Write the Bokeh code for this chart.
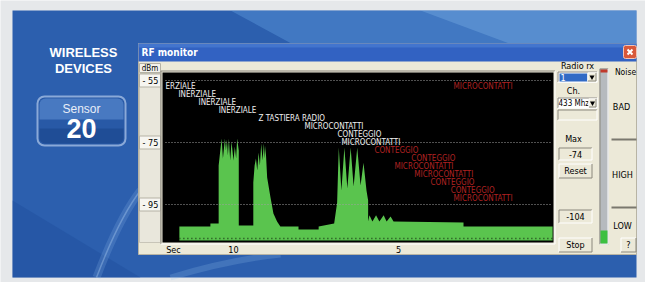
from bokeh.plotting import figure
from bokeh.models import Range1d
from bokeh.core.properties import value
from bokeh.embed import file_html
from bokeh.resources import INLINE

# ---------------- data ----------------
TICKS_DBM = [-55, -75, -95]
TICK_LABELS = ["- 55", "- 75", "- 95"]
X_TICKS_SEC = [10, 5]
X_TICK_LABELS = ["10", "5"]

# received level envelope (seconds ago, dBm), left to right
sig_t = [11.64, 10.70, 10.70, 10.45, 10.45, 10.36, 10.32, 10.26, 10.23, 10.20,
         10.17, 10.14, 10.10, 10.06, 10.00, 9.96, 9.92, 9.89, 9.84, 9.84,
         9.40, 9.40, 9.36, 9.32, 9.28, 9.24, 9.20, 9.16, 9.12, 9.08,
         9.05, 9.03, 8.98, 8.88, 8.79, 8.68, 8.58, 8.03, 8.03, 7.42,
         7.42, 6.95, 6.86, 6.81, 6.73, 6.64, 6.55, 6.45, 6.36, 6.25,
         6.15, 6.06, 5.97, 5.92, 5.92, 5.88, 5.79, 5.68, 5.58, 5.45,
         5.36, 5.24, 5.15, 3.03, 3.03, 0.33]
sig_db = [-102.1, -102.1, -101.1, -101.1, -82.4, -73.7, -80.2, -73.7, -77.6, -74.0,
          -79.2, -73.7, -80.8, -74.7, -80.8, -76.3, -80.2, -73.7, -77.6, -101.8,
          -101.8, -87.9, -82.4, -80.2, -84.0, -78.2, -82.4, -75.3, -80.8, -75.3,
          -80.2, -76.0, -86.3, -92.7, -97.9, -100.5, -102.1, -102.1, -103.1, -103.1,
          -102.1, -101.1, -94.4, -76.6, -90.5, -76.6, -89.8, -76.6, -89.2, -76.6,
          -88.9, -81.5, -90.5, -93.7, -100.5, -98.5, -100.5, -98.5, -100.5, -98.5,
          -100.5, -98.9, -100.5, -100.8, -102.1, -102.1]
BASE_DBM = -106.6

white_labels = ["ERZIALE", "INERZIALE", "INERZIALE", "INERZIALE", "Z TASTIERA RADIO",
                "MICROCONTATTI", "CONTEGGIO", "MICROCONTATTI"]
white_t = [12.06, 11.67, 11.06, 10.45, 9.24, 7.85, 6.85, 6.73]
white_row = [0, 1, 2, 3, 4, 5, 6, 7]

red_labels = ["MICROCONTATTI", "CONTEGGIO", "CONTEGGIO", "MICROCONTATTI", "MICROCONTATTI",
              "CONTEGGIO", "CONTEGGIO", "MICROCONTATTI"]
red_t = [3.33, 5.73, 4.61, 5.12, 4.52, 4.03, 3.42, 3.33]
red_row = [0, 8, 9, 10, 11, 12, 13, 14]

MAX_READ = "-74"
MIN_READ = "-104"

# ---------------- layout (screen pixels of the picture) ----------------
X0, X1, Y0, Y1 = 0, 645, 0, 282
W, H = X1 - X0, Y1 - Y0
SEC_REF_PX, SEC_REF, PX_PER_SEC = 233, 10, 33.0
DB_REF_PX, DB_REF, PX_PER_DB = 142, -75, 3.1
ROW0, ROW_H = 86, 8


def px_to_t(x):
    return SEC_REF - (x - SEC_REF_PX) / PX_PER_SEC


def px_to_db(y):
    return DB_REF - (y - DB_REF_PX) / PX_PER_DB


UI = "DejaVu Sans Condensed"
SANS = "Liberation Sans"
BEIGE = "#ECE9D8"
GREEN = "#5ac44e"

p = figure(width=W, height=H, x_range=Range1d(X0, X1), y_range=Range1d(Y1, Y0),
           output_backend="svg", toolbar_location=None, min_border=0,
           x_axis_location=None, y_axis_location=None,
           background_fill_color="#e6e8ea", border_fill_color="#e6e8ea",
           outline_line_color=None)
p.xgrid.visible = False
p.ygrid.visible = False
p.extra_x_ranges = {"t": Range1d(px_to_t(X0), px_to_t(X1))}
p.extra_y_ranges = {"db": Range1d(px_to_db(Y1), px_to_db(Y0))}


def box(x0, y0, x1, y1, fill, line=None, lw=1, alpha=1.0, radius=None):
    kw = dict(left=[x0], right=[x1], top=[y0], bottom=[y1], fill_color=fill,
              fill_alpha=alpha, line_color=line, line_width=lw)
    if radius is not None:
        kw["border_radius"] = radius
    p.quad(**kw)


def bevel(x0, y0, x1, y1, sunken=True, dark="#8a877c", light="#ffffff"):
    tl = dark if sunken else light
    br = light if sunken else dark
    x0, y0, x1, y1 = x0 + 0.5, y0 + 0.5, x1 - 0.5, y1 - 0.5
    p.line([x0, x0, x1], [y1, y0, y0], line_color=tl, line_width=1)
    p.line([x0, x1, x1], [y1, y1, y0], line_color=br, line_width=1)


def txt(x, y, s, size="9px", color="black", align="left", bold=False, font=UI):
    p.text(x=[x], y=[y], text=[s], text_font=value(font), text_font_size=size,
           text_color=color, text_align=align, text_baseline="middle",
           text_font_style="bold" if bold else "normal")


# ---------------- blue desktop panel ----------------
box(12, 10, 636, 277, "#2c5fae")
p.patch([230, 636, 636], [10, 10, 230], fill_color="#6aaae8", fill_alpha=0.35, line_color=None)
p.patch([420, 636, 636], [10, 10, 90], fill_color="#8cc0f0", fill_alpha=0.3, line_color=None)
p.patch([12, 140, 12], [200, 277, 277], fill_color="#1c4a98", fill_alpha=0.35, line_color=None)
# soft light swooshes of the wallpaper
p.bezier(x0=[96], y0=[277], x1=[140], y1=[190], cx0=[112], cy0=[235], cx1=[126], cy1=[208],
         line_color="#9cc8f2", line_alpha=0.18, line_width=8)
p.bezier(x0=[96], y0=[277], x1=[140], y1=[190], cx0=[112], cy0=[235], cx1=[126], cy1=[208],
         line_color="#b8d8f6", line_alpha=0.35, line_width=1.5)
p.bezier(x0=[170], y0=[277], x1=[280], y1=[254], cx0=[200], cy0=[268], cx1=[240], cy1=[258],
         line_color="#9cc8f2", line_alpha=0.2, line_width=6)

txt(83, 52, "WIRELESS", size="13px", color="white", align="center", bold=True, font=SANS)
txt(83, 68, "DEVICES", size="13px", color="white", align="center", bold=True, font=SANS)

box(37, 96, 125, 145, "#2859a6", line="#8aa9d8", lw=2, radius=7)
box(39, 98, 123, 119, "#6f9fe2", alpha=0.45, radius=(6, 6, 0, 0))
box(39, 128, 123, 143, "#143d82", alpha=0.45, radius=(0, 0, 6, 6))
txt(81, 108, "Sensor", size="12px", color="#e8eef8", align="center", font=SANS)
txt(81, 128, "20", size="27px", color="white", align="center", bold=True, font=SANS)

# ---------------- RF monitor window ----------------
box(138, 43, 636, 254, BEIGE, line="#b8b4a4")
box(138, 43, 636, 61, "#3262c2")
box(138, 43, 636, 47, "#4f82d6", alpha=0.6)
txt(141, 52, "RF monitor", size="10px", color="white", bold=True)
box(623, 45, 636, 58, "#d8583a", line="#f3c2b2", radius=2)
p.scatter([629.5], [51.5], marker="x", size=7, line_color="white", line_width=2)

# left label column
box(139, 63, 160, 72, "#f3f2ec", line="#b5b2a5")
txt(149.5, 67.5, "dBm", size="8px", align="center")
box(139, 73, 160, 242, "#e9e7dc", line="#c8c5b8")
p.rect(x=149.5, y=TICKS_DBM, width=21, height=13, height_units="screen",
       y_range_name="db", fill_color="#f6f5f0", line_color="#b5b2a5")
p.text(x=142, y=TICKS_DBM, text=TICK_LABELS, y_range_name="db",
       text_font=value(UI), text_font_size="9px", text_color="black",
       text_baseline="middle")

# plot area
bevel(160, 70, 555, 244, sunken=True)
box(162, 72, 553, 242, "#000000")
p.varea(x=sig_t, y1=BASE_DBM, y2=sig_db, x_range_name="t", y_range_name="db",
        fill_color=GREEN)
p.line(x=[sig_t[0], sig_t[-1]], y=[BASE_DBM + 0.6, BASE_DBM + 0.6],
       x_range_name="t", y_range_name="db", line_color="#1d3a18",
       line_dash="1 3", line_width=1.5)
p.segment(x0=165, x1=550, y0=TICKS_DBM, y1=TICKS_DBM, y_range_name="db",
          line_color="#a0a0a0", line_dash="1 2", line_width=1)
p.text(x=white_t, y=[ROW0 + ROW_H * r for r in white_row], text=white_labels,
       x_range_name="t", text_font=value(UI), text_font_size="8px",
       text_color="#f0f0f0", text_baseline="middle")
p.text(x=red_t, y=[ROW0 + ROW_H * r for r in red_row], text=red_labels,
       x_range_name="t", text_font=value(UI), text_font_size="8px",
       text_color="#b02222", text_baseline="middle")

# x tick labels
txt(173, 249, "Sec", size="9px", align="center")
p.text(x=X_TICKS_SEC, y=249, text=X_TICK_LABELS, x_range_name="t",
       text_font=value(UI), text_font_size="9px", text_color="black",
       text_align="center", text_baseline="middle")

# right controls
txt(577, 65, "Radio rx", size="9px", align="center")
box(557, 71, 597, 82, "white")
bevel(557, 71, 597, 82)
box(559, 73, 587, 81, "#316ac5")
txt(560, 77, "1", size="9px", color="white")
box(587, 72, 596, 81, BEIGE)
bevel(587, 72, 596, 81, sunken=False)
p.scatter([591.5], [76.5], marker="inverted_triangle", size=5, fill_color="black", line_color=None)

txt(573, 90, "Ch.", size="9px", align="center")
box(557, 97, 597, 108, "white")
bevel(557, 97, 597, 108)
txt(558, 102.5, "433 Mhz", size="8px")
box(588, 98, 596, 107, BEIGE)
bevel(588, 98, 596, 107, sunken=False)
p.scatter([592], [102.5], marker="inverted_triangle", size=5, fill_color="black", line_color=None)
bevel(557, 109, 597, 120)

txt(573, 138, "Max", size="9px", align="center")
bevel(558, 147, 592, 160)
txt(575, 153.5, MAX_READ, size="9px", align="center")
bevel(558, 163, 592, 178, sunken=False)
txt(575, 170.5, "Reset", size="9px", align="center")
bevel(558, 209, 592, 223)
txt(575, 216, MIN_READ, size="9px", align="center")
bevel(558, 237, 592, 252, sunken=False)
txt(575, 244.5, "Stop", size="9px", align="center")

# level meter
box(599, 68, 608, 244, "#b6babe")
bevel(599, 68, 608, 244)
box(600, 69, 607, 72, "#c0392b")
box(600, 230, 607, 243, "#3cc040")

txt(625, 71, "Noise", size="8.5px", align="center")
txt(621, 106, "BAD", size="9px", align="center")
p.segment(x0=611, x1=636, y0=139, y1=139, line_color="#7a786e", line_width=2)
txt(622, 174, "HIGH", size="9px", align="center")
p.segment(x0=611, x1=636, y0=207, y1=207, line_color="#7a786e", line_width=2)
txt(622, 225, "LOW", size="9px", align="center")
bevel(620, 237, 636, 252, sunken=False)
txt(628, 244.5, "?", size="9px", align="center")

open("out.html", "w").write(file_html(p, INLINE))
